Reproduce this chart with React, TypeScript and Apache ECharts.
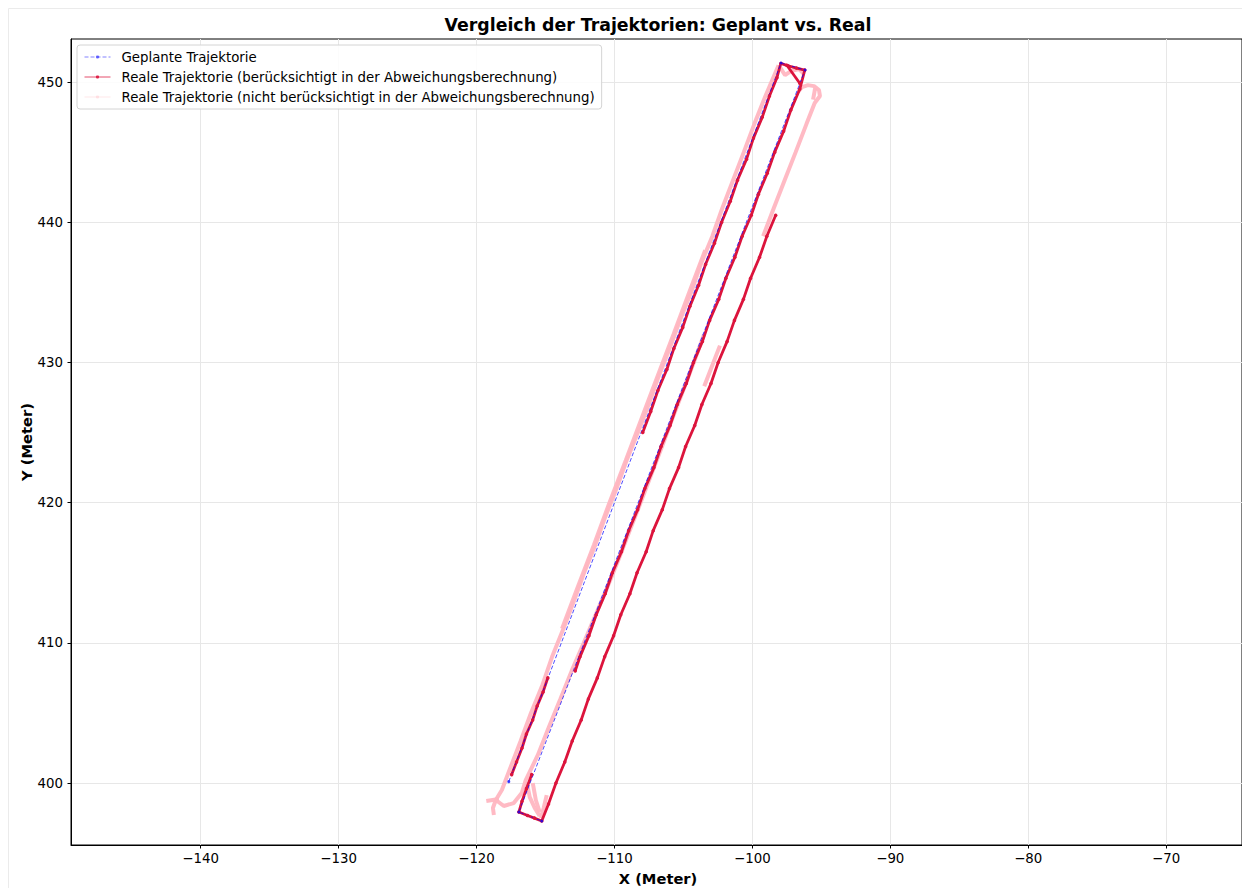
import React, { useEffect, useRef } from "react";
import * as echarts from "echarts";

// ---------- tick labels ----------
const xTicks = [-140, -130, -120, -110, -100, -90, -80, -70];
const yTicks = [400, 410, 420, 430, 440, 450];

// ---------- legend / series names ----------
const nameGeplant = "Geplante Trajektorie";
const nameReal = "Reale Trajektorie (berücksichtigt in der Abweichungsberechnung)";
const nameRest = "Reale Trajektorie (nicht berücksichtigt in der Abweichungsberechnung)";

// ---------- planned trajectory [X, Y] ----------
const plannedPath = [
  [-117.66, 400.1], [-97.92, 451.36], [-96.18, 450.86], [-116.93, 397.93], [-115.27, 397.29],
];

// ---------- real trajectory, not considered (pink) ----------
const pinkLeftLane = [
  [-118.74, 397.72], [-118.81, 398.22], [-118.6, 398.79], [-118.16, 399.5], [-117.58, 401],
  [-116.8, 403], [-116.05, 405], [-115.22, 407], [-114.52, 409], [-113.7, 411], [-112.93, 413],
  [-112.2, 415], [-111.38, 417], [-110.66, 419], [-109.85, 421], [-109.12, 423], [-108.3, 425],
  [-107.52, 427], [-106.8, 429], [-106.0, 431], [-105.25, 433], [-104.44, 435], [-103.74, 437],
  [-102.9, 439], [-102.18, 441], [-101.4, 443], [-100.62, 445], [-99.86, 447], [-99.05, 449],
  [-98.1, 451.2],
];
const pinkLeftLaneB = [
  [-113.8, 411], [-112.65, 414], [-111.48, 417], [-110.36, 420], [-109.18, 423], [-108.03, 426],
  [-106.88, 429], [-105.72, 432], [-104.58, 435], [-103.42, 438],
];
const pinkTopArc = [[-98.1, 451.2], [-97.63, 450.5], [-97.2, 450.78], [-96.6, 450.92], [-96.3, 450.6]];
const pinkBottomHook = [[-119.29, 398.72], [-118.38, 398.86]];
const pinkMiddleLane = [
  [-118.6, 398.79], [-118.02, 398.36], [-117.3, 398.57], [-116.72, 399.29], [-116.43, 400.21],
  [-115.55, 402], [-114.75, 404], [-113.92, 406], [-113.1, 408], [-112.22, 410], [-111.36, 412],
  [-110.5, 414], [-109.68, 416], [-108.9, 418], [-108.1, 420], [-107.33, 422], [-106.55, 424],
  [-105.8, 426], [-105.02, 428], [-104.25, 430], [-103.5, 432],
];
const pinkFanA = [[-116.36, 400.07], [-116.14, 399.0], [-115.78, 398.22], [-115.42, 397.65]];
const pinkFanB = [[-115.92, 400.0], [-115.7, 398.79], [-115.42, 397.93]];
const pinkFanC = [[-114.91, 399.14], [-115.13, 398.22], [-115.34, 397.5]];
const pinkRightLane = [
  [-99.22, 439], [-98.45, 441], [-97.66, 443], [-96.86, 445], [-96.08, 447], [-95.48, 448.5],
  [-95.1, 449.0], [-95.17, 449.43], [-95.53, 449.71], [-95.97, 449.78], [-96.4, 449.64], [-96.69, 449.29],
];
const pinkHookTick = [[-95.6, 448.75], [-95.45, 449.55]];
const pinkRightShort = [[-103.49, 428.3], [-102.9, 429.8], [-102.35, 431.2]];

// ---------- real trajectory, considered (crimson) ----------
const redLeftLow = [
  [-117.45, 400.6], [-117.1, 401.5], [-116.7, 402.5], [-116.38, 403.5], [-115.93, 404.5],
  [-115.6, 405.5], [-115.17, 406.5], [-114.83, 407.5],
];
const redUpperLoop = [
  [-107.95, 425], [-107.37, 426.5], [-106.85, 428], [-106.2, 429.5], [-105.69, 431], [-105.05, 432.5],
  [-104.53, 434], [-103.9, 435.5], [-103.39, 437], [-102.75, 438.5], [-102.23, 440], [-101.6, 441.5],
  [-101.08, 443], [-100.42, 444.5], [-99.92, 446], [-99.28, 447.5], [-98.76, 449], [-98.22, 450.3],
  [-97.94, 451.33], [-97.4, 451.15], [-96.8, 451.0], [-96.2, 450.85], [-96.56, 449.5], [-97.21, 448],
  [-97.73, 446.5], [-98.38, 445], [-98.92, 443.5], [-99.56, 442], [-100.08, 440.5], [-100.74, 439],
  [-101.27, 437.5], [-101.92, 436], [-102.44, 434.5], [-103.1, 433], [-103.62, 431.5], [-104.27, 430],
  [-104.79, 428.5], [-105.45, 427], [-105.97, 425.5], [-106.62, 424], [-107.14, 422.5], [-107.8, 421],
  [-108.32, 419.5], [-108.97, 418], [-109.49, 416.5], [-110.15, 415], [-110.67, 413.5], [-111.32, 412],
  [-111.85, 410.5], [-112.5, 409], [-112.84, 408],
];
const redLowerPath = [
  [-116.0, 400.6], [-116.38, 399.6], [-116.7, 398.7], [-116.93, 397.93], [-116.3, 397.68], [-115.8, 397.5],
  [-115.27, 397.29], [-114.78, 398.5], [-114.24, 400], [-113.6, 401.5], [-113.06, 403], [-112.41, 404.5],
  [-111.89, 406], [-111.24, 407.5], [-110.71, 409], [-110.06, 410.5], [-109.54, 412], [-108.88, 413.5],
  [-108.36, 415], [-107.7, 416.5], [-107.19, 418], [-106.53, 419.5], [-106.01, 421], [-105.35, 422.5],
  [-104.84, 424], [-104.18, 425.5], [-103.66, 427], [-103.0, 428.5], [-102.48, 430], [-101.83, 431.5],
  [-101.3, 433], [-100.65, 434.5], [-100.13, 436], [-99.48, 437.5], [-98.95, 439], [-98.31, 440.5],
];
const redTopX = [[-97.5, 451.2], [-96.55, 449.9]];

const pinkSegments = [
  pinkLeftLane, pinkLeftLaneB, pinkTopArc, pinkBottomHook, pinkMiddleLane,
  pinkFanA, pinkFanB, pinkFanC, pinkRightLane, pinkHookTick, pinkRightShort,
];
const redSegments = [redLeftLow, redUpperLoop, redLowerPath, redTopX];

const FONT = "DejaVu Sans";
const fmt = (v: number) => String(Math.round(v)).replace("-", "\u2212");

export default function App() {
  const ref = useRef<HTMLDivElement>(null);
  useEffect(() => {
    if (!ref.current) return;
    const chart = echarts.init(ref.current, null, { renderer: "svg" });

    const pinkSeries = pinkSegments.map((seg) => ({
      type: "line",
      name: nameRest,
      data: seg,
      symbol: "circle",
      showSymbol: false,
      symbolSize: 2,
      silent: true,
      itemStyle: { color: "#FFB6C1" },
      lineStyle: { color: "#FFB6C1", width: 4, opacity: 0.95 },
      emphasis: { disabled: true },
    }));
    const redSeries = redSegments.map((seg) => ({
      type: "line",
      name: nameReal,
      data: seg,
      symbol: "circle",
      showSymbol: true,
      symbolSize: 3.5,
      silent: true,
      itemStyle: { color: "#DC143C" },
      lineStyle: { color: "#DC143C", width: 2.8 },
      emphasis: { disabled: true },
    }));
    const blueSeries = {
      type: "line",
      name: nameGeplant,
      data: plannedPath,
      symbol: "circle",
      showSymbol: true,
      symbolSize: 3,
      silent: true,
      itemStyle: { color: "rgba(0,0,255,0.75)" },
      lineStyle: { color: "rgba(0,0,255,0.7)", width: 1, type: [4, 2] },
      emphasis: { disabled: true },
    };

    const axisCommon = {
      type: "value",
      axisLine: { show: true, lineStyle: { color: "#000", width: 1 } },
      axisTick: { show: true, inside: false, length: 3.5, lineStyle: { color: "#000", width: 1 } },
      splitLine: { show: true, lineStyle: { color: "#e7e7e7", width: 1 } },
    };

    chart.setOption({
      animation: false,
      backgroundColor: "#ffffff",
      textStyle: { fontFamily: FONT },
      grid: {
        left: 71, top: 39, right: -3, bottom: 43,
        show: true, borderColor: "#000", borderWidth: 1, backgroundColor: "transparent",
      },
      xAxis: {
        ...axisCommon,
        min: -149.4,
        max: -64.5,
        splitNumber: 9,
        axisTick: { ...axisCommon.axisTick, customValues: xTicks },
        axisLabel: {
          color: "#000", fontSize: 13.33, fontFamily: FONT, margin: 7,
          customValues: xTicks, formatter: fmt,
        },
      },
      yAxis: {
        ...axisCommon,
        min: 395.58,
        max: 453.07,
        splitNumber: 6,
        axisTick: { ...axisCommon.axisTick, customValues: yTicks },
        axisLabel: {
          color: "#000", fontSize: 13.33, fontFamily: FONT, margin: 8,
          customValues: yTicks, formatter: fmt,
        },
      },
      legend: {
        left: 77,
        top: 45,
        orient: "vertical",
        selectedMode: false,
        itemWidth: 26,
        itemHeight: 4,
        itemGap: 4,
        padding: [4, 7, 4, 7],
        backgroundColor: "rgba(255,255,255,0.85)",
        borderColor: "#d4d4d4",
        borderWidth: 1,
        borderRadius: 3,
        textStyle: { fontSize: 13.33, color: "#000", fontFamily: FONT, lineHeight: 16, padding: [0, 0, 0, 6] },
        data: [
          { name: nameGeplant, lineStyle: { width: 1, opacity: 0.7 }, itemStyle: { opacity: 0.7 } },
          { name: nameReal, lineStyle: { width: 1, opacity: 0.75 }, itemStyle: { opacity: 0.9 } },
          { name: nameRest, lineStyle: { width: 1, opacity: 0.35 }, itemStyle: { opacity: 0.35 } },
        ],
      },
      graphic: [
        {
          type: "rect",
          silent: true,
          shape: { x: 8.5, y: 8.5, width: 1245, height: 890 },
          style: { fill: "none", stroke: "#ebebeb", lineWidth: 1 },
          z: -10,
        },
        {
          type: "text",
          x: 658,
          y: 25,
          silent: true,
          style: {
            text: "Vergleich der Trajektorien: Geplant vs. Real",
            fill: "#000", fontSize: 17.33, fontWeight: "bold", fontFamily: FONT,
            align: "center", verticalAlign: "middle", textAlign: "center", textVerticalAlign: "middle",
          },
        },
        {
          type: "text",
          x: 658,
          y: 878,
          silent: true,
          style: {
            text: "X (Meter)",
            fill: "#000", fontSize: 14.67, fontWeight: "bold", fontFamily: FONT,
            align: "center", verticalAlign: "middle", textAlign: "center", textVerticalAlign: "middle",
          },
        },
        {
          type: "text",
          x: 26,
          y: 442,
          rotation: Math.PI / 2,
          silent: true,
          style: {
            text: "Y (Meter)",
            fill: "#000", fontSize: 14.67, fontWeight: "bold", fontFamily: FONT,
            align: "center", verticalAlign: "middle", textAlign: "center", textVerticalAlign: "middle",
          },
        },
      ],
      series: [...pinkSeries, ...redSeries, blueSeries],
    });
    return () => chart.dispose();
  }, []);

  return (
    <div
      ref={ref}
      style={{ position: "absolute", left: 0, top: 0, width: 1242, height: 888, background: "#fff" }}
    />
  );
}
